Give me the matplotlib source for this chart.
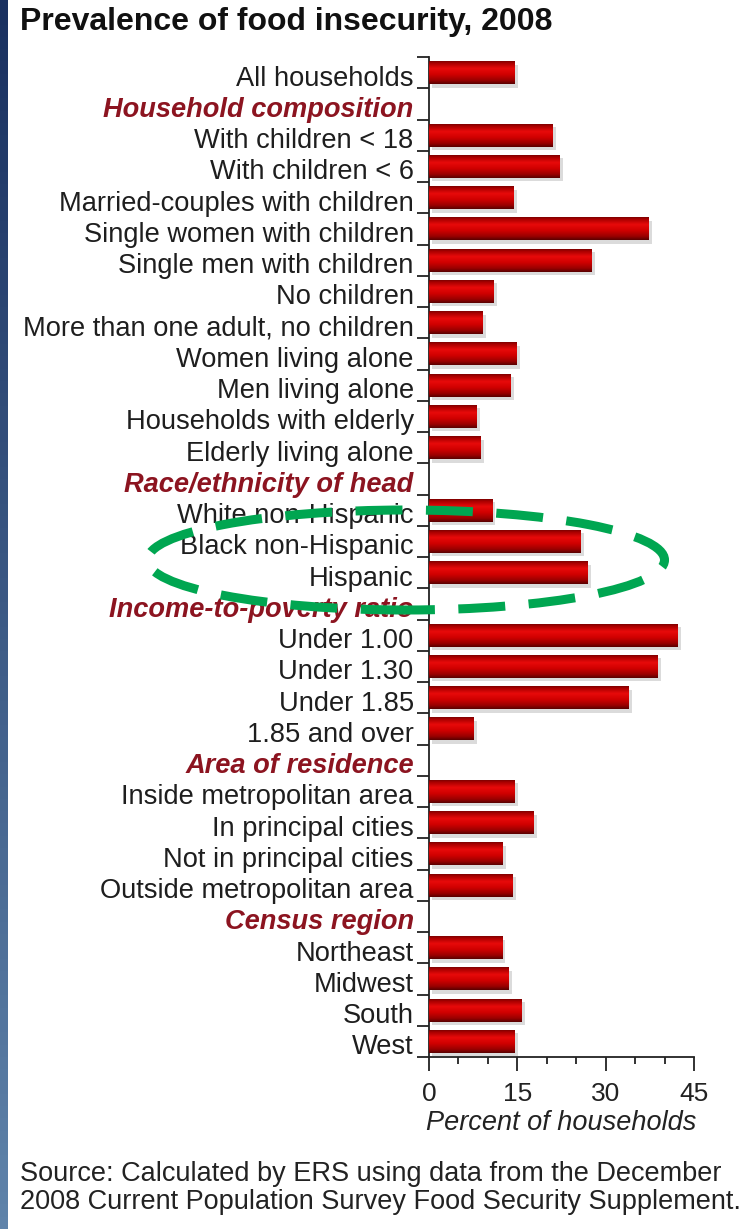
import numpy as np
import matplotlib.pyplot as plt
import matplotlib.transforms as mtransforms
from matplotlib import patheffects
from matplotlib.patches import Ellipse
from matplotlib.colors import LinearSegmentedColormap

plt.rcParams['font.family'] = ['Liberation Sans', 'DejaVu Sans']

# rows of the chart, top to bottom (None = group header)
row_labels = ["All households", "Household composition", "With children < 18", "With children < 6",
              "Married-couples with children", "Single women with children", "Single men with children",
              "No children", "More than one adult, no children", "Women living alone", "Men living alone",
              "Households with elderly", "Elderly living alone", "Race/ethnicity of head",
              "White non-Hispanic", "Black non-Hispanic", "Hispanic", "Income-to-poverty ratio",
              "Under 1.00", "Under 1.30", "Under 1.85", "1.85 and over", "Area of residence",
              "Inside metropolitan area", "In principal cities", "Not in principal cities",
              "Outside metropolitan area", "Census region", "Northeast", "Midwest", "South", "West"]
row_values = [14.6, None, 21.0, 22.2, 14.3, 37.2, 27.6, 11.0, 9.1, 14.9, 13.8, 8.1, 8.8, None,
              10.7, 25.7, 26.9, None, 42.2, 38.8, 33.8, 7.5, None, 14.5, 17.7, 12.5, 14.1, None,
              12.4, 13.5, 15.7, 14.6]
header_rows = ["Household composition", "Race/ethnicity of head", "Income-to-poverty ratio",
               "Area of residence", "Census region"]
x_ticks = [0, 15, 30, 45]

W, H = 755, 1229
fig = plt.figure(figsize=(W / 100, H / 100), dpi=100)
ax = fig.add_axes([429 / W, 1 - 1057 / H, 265 / W, 1000 / H])

ypos = np.arange(len(row_labels))
bar_y = [i for i, v in enumerate(row_values) if v is not None]
bar_v = [v for v in row_values if v is not None]

shadow = [patheffects.SimplePatchShadow(offset=(2.5, -2.5), shadow_rgbFace='#8a8a8a', alpha=0.3),
          patheffects.Normal()]
bars = ax.barh(bar_y, bar_v, height=0.74, color='#c80000', zorder=2, path_effects=shadow)

# cylinder-like shading on each bar
cmap = LinearSegmentedColormap.from_list('redbar', [(0, '#6a0000'), (0.12, '#a80000'), (0.35, '#e80a0a'),
                                                    (0.6, '#d00000'), (0.85, '#9a0000'), (1, '#5a0000')])
grad = np.linspace(0, 1, 64).reshape(-1, 1)
for b in bars:
    x0, y0, w, h = b.get_x(), b.get_y(), b.get_width(), b.get_height()
    im = ax.imshow(grad, cmap=cmap, extent=[x0, x0 + w, y0 + h, y0], aspect='auto',
                   interpolation='bilinear', zorder=3)
    im.set_clip_path(b)

ax.set_xlim(0, 45)
ax.set_ylim(len(row_labels) - 0.5, -0.5)

ax.set_yticks(ypos)
ax.set_yticklabels(row_labels)
ax.set_yticks(np.arange(-0.5, len(row_labels)), minor=True)
ax.tick_params(axis='y', which='major', length=0, pad=11, labelsize=19.6)
ax.tick_params(axis='y', which='minor', length=9, width=1.3, color='#222222')
shift = mtransforms.ScaledTranslation(0, -3 / 100, fig.dpi_scale_trans)
for lab in ax.get_yticklabels():
    lab.set_transform(lab.get_transform() + shift)
    if lab.get_text() in header_rows:
        lab.set_color('#8c1420')
        lab.set_fontweight('bold')
        lab.set_fontstyle('italic')
    else:
        lab.set_color('#1e1e1e')

ax.set_xticks(x_ticks)
ax.set_xticks(np.arange(0, 46, 5), minor=True)
ax.tick_params(axis='x', which='major', length=10, width=1.3, pad=8, labelsize=19, colors='#222222')
ax.tick_params(axis='x', which='minor', length=5, width=1.3, color='#222222')
ax.set_xlabel('Percent of households', fontsize=19.5, fontstyle='italic', color='#222222', labelpad=3)

for s in ['top', 'right']:
    ax.spines[s].set_visible(False)
for s in ['left', 'bottom']:
    ax.spines[s].set_linewidth(1.3)
    ax.spines[s].set_color('#222222')

fig.text(20 / W, 1 - 22 / H, 'Prevalence of food insecurity, 2008', fontsize=23, fontweight='bold',
         color='#111111', ha='left', va='center')
fig.text(20 / W, 1 - 1188 / H,
         'Source: Calculated by ERS using data from the December\n'
         '2008 Current Population Survey Food Security Supplement.',
         fontsize=19.5, color='#222222', ha='left', va='center', linespacing=1.1)

# highlight ellipse
ell = Ellipse((406 / 100, (H - 560) / 100), 517 / 100, 100 / 100, transform=fig.dpi_scale_trans,
              fill=False, edgecolor='#00a651', linewidth=6.5, linestyle=(2, (5.2, 2.6)), zorder=10)
fig.patches.append(ell)

# blue strip on the left edge
sax = fig.add_axes([0, 0, 7 / W, 1])
sax.imshow(np.linspace(0, 1, 100).reshape(-1, 1),
           cmap=LinearSegmentedColormap.from_list('strip', ['#1a3160', '#5f83aa']),
           aspect='auto', extent=[0, 1, 0, 1], origin='upper')
sax.axis('off')

fig.savefig('out.png', dpi=100)
